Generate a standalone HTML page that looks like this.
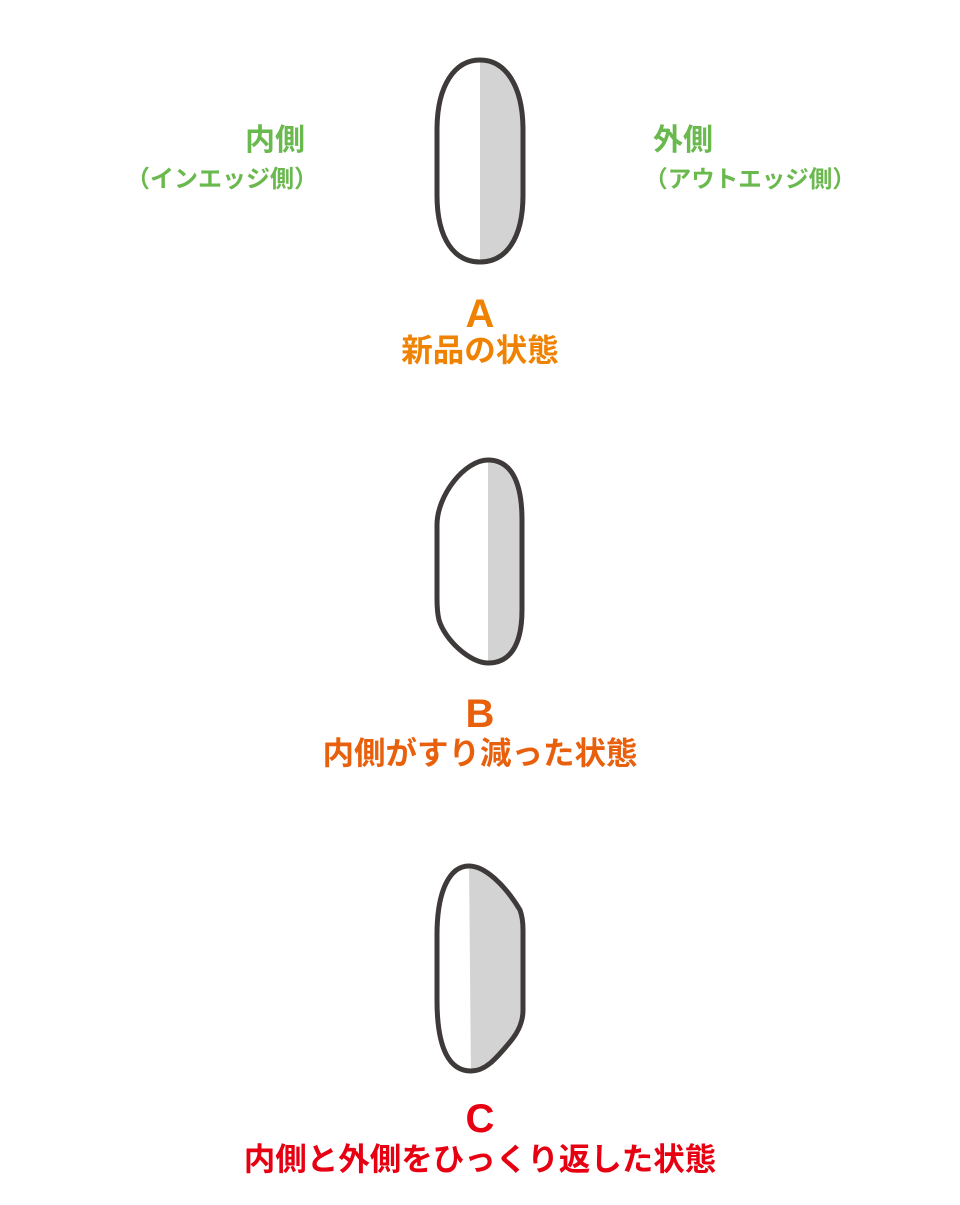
<!DOCTYPE html>
<html><head><meta charset="utf-8"><style>
html,body{margin:0;padding:0;background:#fff}
body{width:960px;height:1200px;overflow:hidden;font-family:"Liberation Sans","Noto Sans CJK JP",sans-serif}
</style></head><body>
<svg width="960" height="1200" viewBox="0 0 960 1200" xmlns="http://www.w3.org/2000/svg" font-family="Liberation Sans, Noto Sans CJK JP, sans-serif" font-weight="bold" text-anchor="middle">
<defs>
<clipPath id="ca"><path d="M480,60 C505,60 523,85 523,130 V195 C523,240 505,262 480,262 C455,262 437,240 437,195 V130 C437,85 455,60 480,60Z"/></clipPath>
<clipPath id="cb"><path d="M488,460 C510,460 522,480 522,520 V610 C522,645 510,663 488,663 C470,663 445,640 439,620 C437,612 437,605 437,598 V525 C437,495 465,460 488,460Z"/></clipPath>
<clipPath id="cc"><path d="M469,866 C485,866 505,885 520,910 C523,918 523,925 523,930 V1010 C523,1020 520,1030 510,1042 C495,1060 485,1071 471,1071 C450,1071 437,1050 437,1000 V935 C437,890 450,866 469,866Z"/></clipPath>
</defs>
<g fill="#d3d3d3">
<rect x="480" y="50" width="60" height="220" clip-path="url(#ca)"/>
<rect x="488" y="450" width="60" height="220" clip-path="url(#cb)"/>
<polygon points="469,860 540,860 540,1080 471,1080" clip-path="url(#cc)"/>
</g>
<g fill="none" stroke="#3e3a39" stroke-width="5" stroke-linejoin="round">
<path d="M480,60 C505,60 523,85 523,130 V195 C523,240 505,262 480,262 C455,262 437,240 437,195 V130 C437,85 455,60 480,60Z"/>
<path d="M488,460 C510,460 522,480 522,520 V610 C522,645 510,663 488,663 C470,663 445,640 439,620 C437,612 437,605 437,598 V525 C437,495 465,460 488,460Z"/>
<path d="M469,866 C485,866 505,885 520,910 C523,918 523,925 523,930 V1010 C523,1020 520,1030 510,1042 C495,1060 485,1071 471,1071 C450,1071 437,1050 437,1000 V935 C437,890 450,866 469,866Z"/>
</g>
<g fill="#6ab94e">
<text x="275" y="150" font-size="30">内側</text>
<text x="222" y="187" font-size="24">（インエッジ側）</text>
<text x="683" y="150" font-size="30">外側</text>
<text x="750" y="187" font-size="23.5">（アウトエッジ側）</text>
</g>
<g fill="#ef8200">
<text x="480" y="327" font-size="40">A</text>
<text x="480" y="361" font-size="31.5">新品の状態</text>
</g>
<g fill="#e8600c">
<text x="480" y="727" font-size="40">B</text>
<text x="480" y="764" font-size="31.5">内側がすり減った状態</text>
</g>
<g fill="#e60012">
<text x="480" y="1132" font-size="40">C</text>
<text x="480" y="1170" font-size="31.5">内側と外側をひっくり返した状態</text>
</g>
</svg>
</body></html>
